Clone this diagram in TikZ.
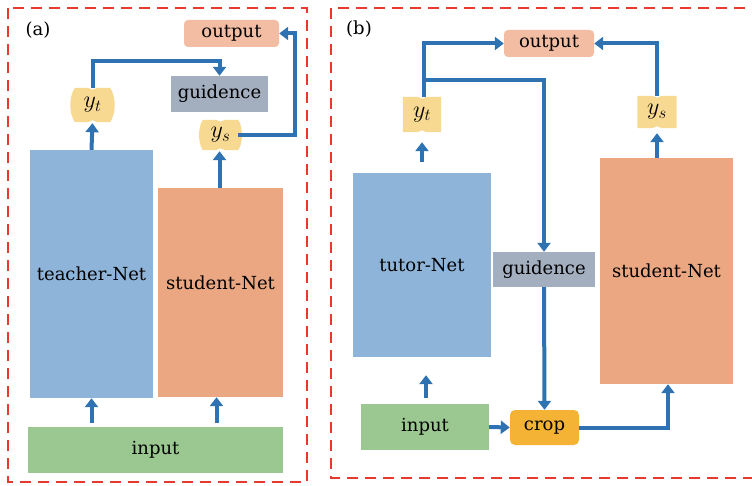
\RequirePackage{fix-cm}
\documentclass[tikz,border=0pt]{standalone}
\usepackage{fontspec}
\setmainfont{DejaVu Serif}
\usetikzlibrary{arrows.meta,calc,backgrounds}
\definecolor{netblue}{HTML}{8EB5D9}
\definecolor{netorange}{HTML}{EAA782}
\definecolor{ingreen}{HTML}{9BC890}
\definecolor{outpink}{HTML}{F2BDA3}
\definecolor{guidgray}{HTML}{A3AEBF}
\definecolor{yyellow}{HTML}{F8D992}
\definecolor{cropor}{HTML}{F5B335}
\definecolor{arrblue}{HTML}{2E72B1}
\definecolor{framered}{HTML}{E8392F}
% wavy label plate behind a y-node: #1 node name, #2 side bulge
\newcommand{\yplate}[2]{%
  \fill[yyellow]
    (#1.north west) -- ($(#1.north)+(-5,0)$)
    .. controls ($(#1.north)+(-2,0)$) and ($(#1.north)+(-2,2)$) .. ($(#1.north)+(0,2)$)
    .. controls ($(#1.north)+(2,2)$) and ($(#1.north)+(2,0)$) .. ($(#1.north)+(5,0)$)
    -- (#1.north east)
    .. controls ($(#1.east)+(#2,-8)$) and ($(#1.east)+(#2,8)$) .. (#1.south east)
    -- ($(#1.south)+(5,0)$)
    .. controls ($(#1.south)+(2,0)$) and ($(#1.south)+(2,-2)$) .. ($(#1.south)+(0,-2)$)
    .. controls ($(#1.south)+(-2,-2)$) and ($(#1.south)+(-2,0)$) .. ($(#1.south)+(-5,0)$)
    -- (#1.south west)
    .. controls ($(#1.west)+(-#2,8)$) and ($(#1.west)+(-#2,-8)$) .. (#1.north west) -- cycle;}
\begin{document}
\begin{tikzpicture}[x=1pt,y=-1pt,
  every node/.style={font=\fontsize{18}{21}\selectfont, inner sep=0pt},
  yn/.style={font=\fontsize{24}{26}\selectfont},
  flow/.style={draw=arrblue, line width=4pt, -{Triangle[width=13pt,length=9pt]}},
  frame/.style={draw=framered, line width=2.6pt, dash pattern=on 11pt off 7pt}]
\useasboundingbox (0,0) rectangle (752,486);
\clip (0,0) rectangle (752,486);

% ---------- panel (a) ----------
\draw[frame] (8,8) rectangle (307,482);
\node (la) at (38,30) {(a)};
\node[fill=outpink, rounded corners=4pt, minimum width=95pt, minimum height=27pt] (outa) at (231.5,33.5) {output};
\node[fill=guidgray, minimum width=97pt, minimum height=36pt] (guida) at (219.5,94) {guidence};
\node[yn, minimum width=35pt, minimum height=34pt] (yta) at (92.5,105) {$y_t$};
\node[yn, minimum width=35pt, minimum height=30pt] (ysa) at (220.5,135) {$y_s$};
\node[fill=netblue, minimum width=123pt, minimum height=248pt] (teach) at (91.5,274) {teacher-Net};
\node[fill=netorange, minimum width=125pt, minimum height=209pt] (stua) at (220.5,292.5) {};
\node (stualbl) at (220.5,283) {student-Net};
\node[fill=ingreen, minimum width=255pt, minimum height=46pt] (ina) at (155.5,450) {input};

\draw[flow] (yta.north) -- ++(0,-27) -| (guida.north);
\draw[flow] (ysa.east) -- ++(57,0) |- (outa.east);
\draw[flow, shorten >=1pt] (teach.north) -- (yta.south);
\draw[flow, shorten >=1pt] ($(stua.north)+(-1,0)$) -- ($(ysa.south)+(-1,0)$);
\draw[flow, shorten <=4pt] (ina.north -| teach.south) -- (teach.south);
\draw[flow, shorten <=4pt] ($(ina.north -| stua.south)+(-4,0)$) -- ($(stua.south)+(-4,0)$);

% ---------- panel (b) ----------
\draw[frame] (331,8) rectangle (770,478);
\node (lb) at (359,29) {(b)};
\node[fill=outpink, rounded corners=4pt, minimum width=90pt, minimum height=27pt] (outb) at (549,43.5) {output};
\node[yn, minimum width=38pt, minimum height=35pt] (ytb) at (422,114.5) {$y_t$};
\node[yn, minimum width=39pt, minimum height=32pt] (ysb) at (657,112) {$y_s$};
\node[fill=netblue, minimum width=138pt, minimum height=184pt] (tutor) at (422,265) {tutor-Net};
\node[fill=guidgray, minimum width=102pt, minimum height=35pt] (guidb) at (544,269.5) {guidence};
\node[fill=netorange, minimum width=133pt, minimum height=226pt] (stub) at (666.5,271) {student-Net};
\node[fill=ingreen, minimum width=128pt, minimum height=46pt] (inb) at (425,427) {input};
\node[fill=cropor, rounded corners=5pt, minimum width=69pt, minimum height=35pt] (crop) at (544.5,427.5) {crop};

\coordinate (br) at ($(ytb.north)+(2,-17)$);
\draw[flow] ($(ytb.north)+(2,0)$) |- (outb.west);
\draw[flow] ($(br)+(-2,0)$) -| (guidb.north);
\draw[flow] (ysb.north) |- (outb.east);
\draw[flow, shorten <=11pt, shorten >=10pt] (tutor.north) -- (ytb.south);
\draw[flow, shorten >=5pt] (stub.north -| ysb.south) -- (ysb.south);
\draw[flow, shorten <=6pt, shorten >=18pt] ($(inb.north)+(1,0)$) -- ($(tutor.south -| inb.north)+(1,0)$);
\draw[flow] (inb.east) -- (crop.west);
\draw[flow] (guidb.south) -- (crop.north);
\draw[flow] (crop.east) -| ($(stub.south)+(1.5,0)$);

% plates behind the y labels
\begin{scope}[on background layer]
  \yplate{yta}{6}
  \yplate{ysa}{5}
  \yplate{ytb}{0}
  \yplate{ysb}{0}
\end{scope}
\end{tikzpicture}
\end{document}
